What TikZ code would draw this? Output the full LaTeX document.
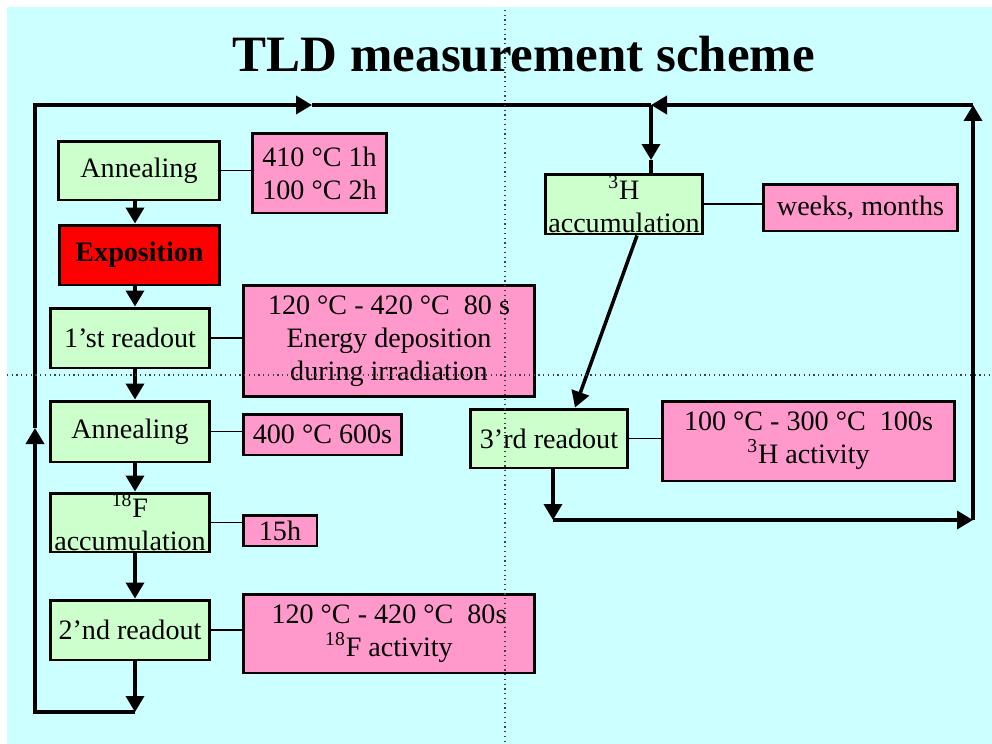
\documentclass[tikz,border=0pt]{standalone}
\usepackage{fontspec}
\setmainfont{Liberation Serif}
\usetikzlibrary{arrows.meta,calc}
\definecolor{slidebg}{RGB}{204,255,255}
\definecolor{stagegreen}{RGB}{204,255,204}
\definecolor{notepink}{RGB}{255,153,204}
\tikzset{
  stage/.style={draw=black, line width=1.7pt, fill=stagegreen, inner sep=0pt,
    align=center, font=\fontsize{16}{18.7}\selectfont},
  note/.style={draw=black, line width=1.7pt, fill=notepink, inner sep=0pt,
    align=center, font=\fontsize{16}{18.7}\selectfont},
  flow/.style={line width=2pt, -{Triangle[length=0.32cm,width=0.36cm]}},
  wire/.style={line width=2pt},
  tie/.style={line width=0.9pt},
  guide/.style={dotted, line width=0.7pt, black!75}
}

\begin{document}
\begin{tikzpicture}[x=0.02cm,y=-0.02cm]
	%%%%% background %%%%%
	\useasboundingbox (0,0) rectangle (992,744);
	\fill[white] (0,0) rectangle (992,744);
	\fill[slidebg] (7,7) rectangle (992,744);
	
	\node[font=\fontsize{29}{34}\selectfont\bfseries, anchor=base] (title) at (524,71) {TLD measurement scheme};
	
	%%%%% left column %%%%%
	\node[stage, minimum width=3.24cm, minimum height=1.18cm] (ann1) at (139,170.5) {Annealing};
	\node[note, minimum width=2.70cm, minimum height=1.60cm] (p1) at (319.5,173) {410 °C 1h\\100 °C 2h};
	
	\node[stage, fill=red, minimum width=3.22cm, minimum height=1.20cm] (expo) at (139.5,255) {\textbf{Exposition}};
	
	\node[stage, minimum width=3.20cm, minimum height=1.20cm] (rd1) at (130,338) {1’st readout};
	\node[note, minimum width=5.84cm, minimum height=2.24cm] (p2) at (389,341) {120 °C - 420 °C\ \ 80 s\\Energy deposition\\during irradiation};
	
	\node[stage, minimum width=3.20cm, minimum height=1.22cm] (ann2) at (130,431.5) {Annealing};
	\node[note, minimum width=3.18cm, minimum height=0.82cm] (p3) at (322.5,434.5) {400 °C 600s};
	
	\node[stage, minimum width=3.20cm, minimum height=1.18cm] (f18) at (130,522.5) {\textsuperscript{18}F\\accumulation};
	\node[note, minimum width=1.48cm, minimum height=0.62cm] (p4) at (280,530.5) {15h};
	
	\node[stage, minimum width=3.20cm, minimum height=1.20cm] (rd2) at (130,630) {2’nd readout};
	\node[note, minimum width=5.84cm, minimum height=1.58cm] (p5) at (389,633.5) {120 °C - 420 °C\ \ 80s\\\textsuperscript{18}F activity};
	
	%%%%% right column %%%%%
	\node[stage, minimum width=3.16cm, minimum height=1.20cm] (h3) at (624,204) {\textsuperscript{3}H\\accumulation};
	\node[note, minimum width=3.90cm, minimum height=0.94cm] (p6) at (860.5,207.5) {weeks, months};
	
	\node[stage, minimum width=3.16cm, minimum height=1.18cm] (rd3) at (549,438.5) {3’rd readout};
	\node[note, minimum width=5.86cm, minimum height=1.60cm] (p7) at (808.5,441) {100 °C - 300 °C\ \ 100s\\\textsuperscript{3}H activity};
	
	%%%%% ties to the notes %%%%%
	\draw[tie] (ann1.east) -- (ann1.east -| p1.west);
	\draw[tie] (rd1.east) -- (rd1.east -| p2.west);
	\draw[tie] (ann2.east) -- (ann2.east -| p3.west);
	\draw[tie] (f18.east) -- (f18.east -| p4.west);
	\draw[tie] (rd2.east) -- (rd2.east -| p5.west);
	\draw[tie] (h3.east) -- (h3.east -| p6.west);
	\draw[tie] (rd3.east) -- (rd3.east -| p7.west);
	
	%%%%% main flow %%%%%
	\coordinate (col) at (135,0);
	\draw[flow] (ann1.south -| col) -- (expo.north -| col);
	\draw[flow] (expo.south -| col) -- (rd1.north -| col);
	\draw[flow] (rd1.south -| col) -- (ann2.north -| col);
	\draw[flow] (ann2.south -| col) -- (f18.north -| col);
	\draw[flow] (f18.south -| col) -- (rd2.north -| col);
	
	\coordinate (pb) at (135,712);
	\coordinate (lb) at (35,712);
	\coordinate (lmid) at (35,428);
	\coordinate (lt) at (35,105);
	\coordinate (tmid) at (312,105);
	\coordinate (jn) at (651,105);
	\coordinate (hdown) at (651,160);
	\coordinate (rt) at (973,105);
	\coordinate (rb) at (973,520);
	\coordinate (hb) at (553,520);
	
	\draw[flow] (rd2.south -| col) -- (pb);
	\draw[flow] (pb) -- (lb) -- (lmid);
	\draw[flow] (lmid) -- (lt) -- (tmid);
	\draw[wire] (tmid) -- (jn);
	
	\draw[flow] (rd3.south -| hb) -- (hb);
	\draw[flow] (hb) -- (rb);
	\draw[flow] (rb) -- (rt);
	\draw[flow] (rt) -- (jn);
	\draw[flow] (jn) -- (hdown);
	\draw[wire] (hdown) -- (hdown |- h3.north);
	\draw[flow] ([xshift=0.26cm]h3.south) -- ([xshift=0.52cm]rd3.north);
	
	%%%%% guides %%%%%
	\draw[guide] (505,10) -- (505,744);
	\draw[guide] (7,375) -- (992,375);
\end{tikzpicture}
\end{document}
